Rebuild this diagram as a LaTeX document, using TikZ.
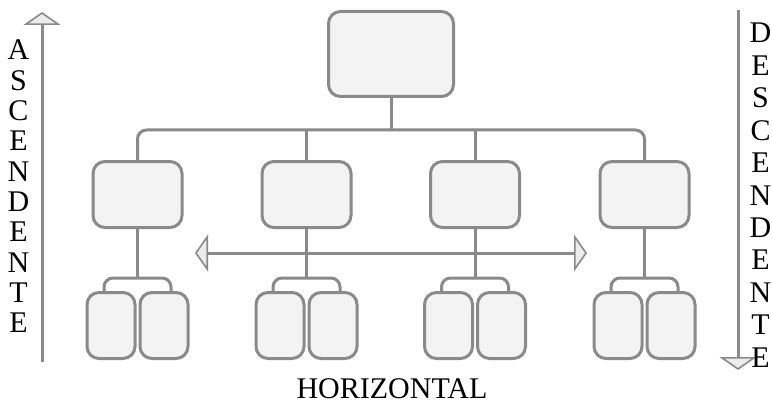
\documentclass[tikz,border=0pt]{standalone}
\usepackage{fontspec}
\setmainfont{Liberation Serif}
\usetikzlibrary{arrows.meta,calc}
\definecolor{linegray}{RGB}{138,138,138}
\definecolor{boxfill}{RGB}{243,243,243}
\definecolor{headfill}{RGB}{236,236,236}
\tikzset{bigtip/.tip={Triangle[length=13pt, width=37pt, fill=headfill, line width=1.6pt]}}
\begin{document}
\begin{tikzpicture}[x=1pt,y=-1pt,
  line width=3pt, draw=linegray,
  boxbase/.style={draw=linegray, fill=boxfill, line width=3pt, rounded corners=12pt, inner sep=0pt},
  topbox/.style={boxbase, minimum width=125pt, minimum height=85pt},
  midbox/.style={boxbase, minimum width=89pt, minimum height=66pt},
  leafbox/.style={boxbase, minimum width=48pt, minimum height=66pt},
  conn/.style={draw=linegray, line width=3pt},
  letter/.style={font=\fontsize{30}{30}\selectfont, inner sep=0pt, text=black}
]
\useasboundingbox (0,0) rectangle (772,404);
\fill[white] (0,0) rectangle (772,404);

% boxes
\node[topbox] (top) at (391,54) {};
\foreach \i/\cx in {1/137.5,2/306.5,3/475,4/644.5}{
  \node[midbox] (b\i) at (\cx,194.5) {};
  \node[leafbox] (l\i) at (\cx-26.5,325.5) {};
  \node[leafbox] (r\i) at (\cx+26.5,325.5) {};
}

% top bar
\coordinate (bar) at (391,130);
\draw[conn] (top.south) -- (bar);
\draw[conn, rounded corners=9pt] (b1.north) |- (bar) -| (b4.north);
\draw[conn] (b2.north) -- (b2.north |- bar);
\draw[conn] (b3.north) -- (b3.north |- bar);

% horizontal arrow
\coordinate (hl) at (195,253);
\coordinate (hr) at (587,253);
\draw[conn, bigtip-bigtip] (hl) -- (hr);

% brackets
\foreach \i in {1,2,3,4}{
  \coordinate (j\i) at ($(b\i.south |- 0,278)$);
  \draw[conn] (b\i.south) -- (j\i);
  \draw[conn, rounded corners=9pt] ($(l\i.north)+(-7,0)$) |- (j\i) -| ($(r\i.north)+(7,0)$);
}

% vertical arrows
\coordinate (asc0) at (42,362);
\coordinate (asc1) at (42,12);
\draw[conn, -bigtip] (asc0) -- (asc1);
\coordinate (des0) at (738,10);
\coordinate (des1) at (738,370);
\draw[conn, -bigtip] (des0) -- (des1);

% texts
\foreach \ch [count=\k from 0] in {A,S,C,E,N,D,E,N,T,E}{
  \node[letter, anchor=base] (asc-\k) at (18.5,60+30.3*\k) {\ch};
}
\foreach \ch [count=\k from 0] in {D,E,S,C,E,N,D,E,N,T,E}{
  \node[letter, anchor=base] (des-\k) at (760.5,43+32.4*\k) {\ch};
}
\node[letter, anchor=base] (horiz) at (392,398) {HORIZONTAL};
\end{tikzpicture}
\end{document}
